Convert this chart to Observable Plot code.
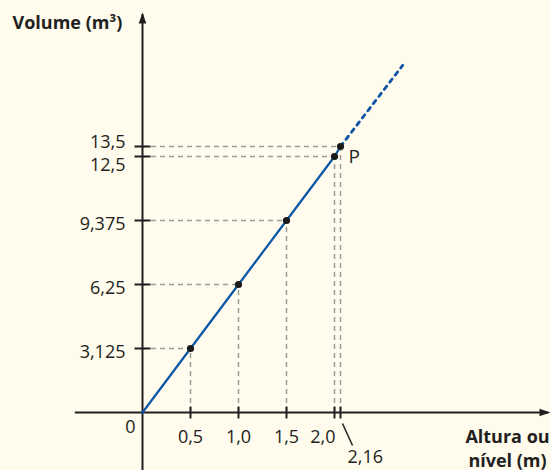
<!DOCTYPE html>
<html><head><meta charset="utf-8">
<script src="https://cdn.jsdelivr.net/npm/d3@7"></script>
<script src="https://cdn.jsdelivr.net/npm/@observablehq/plot@0.6"></script>
<style>html,body{margin:0;padding:0;background:#fffbed;} svg{display:block}</style>
</head><body><div id="chart"></div>
<script>
// Data
const heights = [0.5, 1.0, 1.5, 2.0, 2.16];          // Altura ou nível (m)
const volumes = [3.125, 6.25, 9.375, 12.5, 13.5];    // Volume (m³)
const xTickLabels = ["0,5", "1,0", "1,5", "2,0", "2,16"];
const yTickLabels = ["3,125", "6,25", "9,375", "12,5", "13,5"];
const extHeights = [2.16, 2.8];     // dashed continuation beyond P
const extVolumes = [13.5, 17.5];
const xAxisExtent = [-0.7, 4.3];
const yAxisExtent = [-2.9, 20];
const pointLabel = "P";

const pts = heights.map((h, i) => ({h, v: volumes[i], xl: xTickLabels[i], yl: yTickLabels[i]}));
const linePts = [{h: 0, v: 0}, ...pts];
const extPts = extHeights.map((h, i) => ({h, v: extVolumes[i]}));

const ink = "#231f20";
const blue = "#0c55a6";
const dashGray = "#9b9b9b";
const font = "Open Sans";

// custom symbols
const hTick = {draw(ctx, size) { const r = Math.sqrt(size / Math.PI); ctx.moveTo(-r, 0); ctx.lineTo(r, 0); }};
const vTick = {draw(ctx, size) { const r = Math.sqrt(size / Math.PI); ctx.moveTo(0, -r); ctx.lineTo(0, r); }};
const arrowRight = {draw(ctx) { ctx.moveTo(2, 0); ctx.lineTo(-9, -3.8); ctx.lineTo(-9, 3.8); ctx.closePath(); }};
const arrowUp = {draw(ctx) { ctx.moveTo(0, -2); ctx.lineTo(-3.8, 9); ctx.lineTo(3.8, 9); ctx.closePath(); }};
const slash = {draw(ctx) { ctx.moveTo(-5, -11); ctx.lineTo(5, 11); }};

const O = [0];
const last = pts[pts.length - 1];

const chart = Plot.plot({
  width: 551,
  height: 470,
  margin: 0,
  style: {background: "#fffbed", fontFamily: font, color: ink},
  x: {type: "linear", domain: [0, 2, 2.16, 4.3], range: [142, 334, 340, 548], axis: null},
  y: {type: "linear", domain: [0, 12.5, 13.5, 20], range: [412, 156, 146, 14], axis: null},
  marks: [
    // dashed guides
    Plot.ruleY(pts, {y: "v", x1: () => 0, x2: "h", stroke: dashGray, strokeWidth: 1.5, strokeDasharray: "5,4"}),
    Plot.ruleX(pts, {x: "h", y1: () => 0, y2: "v", stroke: dashGray, strokeWidth: 1.5, strokeDasharray: "5,4"}),
    // axes
    Plot.ruleY(O, {y: 0, x1: xAxisExtent[0], x2: xAxisExtent[1], stroke: ink, strokeWidth: 2}),
    Plot.ruleX(O, {x: 0, y1: yAxisExtent[0], y2: yAxisExtent[1], stroke: ink, strokeWidth: 2}),
    Plot.dot(O, {x: xAxisExtent[1], y: 0, symbol: arrowRight, fill: ink, stroke: "none"}),
    Plot.dot(O, {x: 0, y: yAxisExtent[1], symbol: arrowUp, fill: ink, stroke: "none"}),
    // ticks
    Plot.dot(pts, {x: () => 0, y: "v", symbol: hTick, r: 8, stroke: ink, strokeWidth: 2, fill: "none"}),
    Plot.dot(pts, {x: "h", y: () => 0, symbol: vTick, r: 6, stroke: ink, strokeWidth: 2, fill: "none"}),
    // leader for 2,16
    Plot.dot([last], {x: "h", y: () => 0, dx: 7, dy: 22, symbol: slash, stroke: ink, strokeWidth: 1.5, fill: "none"}),
    // line
    Plot.line(linePts, {x: "h", y: "v", stroke: blue, strokeWidth: 2.2}),
    Plot.line(extPts, {x: "h", y: "v", stroke: blue, strokeWidth: 2.8, strokeDasharray: "4,5"}),
    Plot.dot(pts, {x: "h", y: "v", r: 3.6, fill: "#1a1a1a", stroke: "none"}),
    // y tick labels
    Plot.text(pts.slice(0, 3), {x: () => 0, y: "v", text: "yl", textAnchor: "end", dx: -17, dy: 4, fontSize: 18, fill: ink}),
    Plot.text([pts[3]], {x: () => 0, y: "v", text: "yl", textAnchor: "end", dx: -17, dy: 9, fontSize: 18, fill: ink}),
    Plot.text([pts[4]], {x: () => 0, y: "v", text: "yl", textAnchor: "end", dx: -17, dy: -4, fontSize: 18, fill: ink}),
    // x tick labels
    Plot.text(pts.slice(0, 3), {x: "h", y: () => 0, text: "xl", textAnchor: "middle", dy: 25, fontSize: 18, fill: ink}),
    Plot.text([pts[3]], {x: "h", y: () => 0, text: "xl", textAnchor: "end", dx: 1, dy: 25, fontSize: 18, fill: ink}),
    Plot.text([pts[4]], {x: "h", y: () => 0, text: "xl", textAnchor: "start", dx: 7, dy: 45, fontSize: 18, fill: ink}),
    // origin label
    Plot.text(O, {x: 0, y: 0, text: () => "0", textAnchor: "middle", dx: -12, dy: 15, fontSize: 18, fill: ink}),
    // point P
    Plot.text([last], {x: "h", y: "v", text: () => pointLabel, textAnchor: "start", dx: 8, dy: 10, fontSize: 19, fill: ink}),
    // axis titles
    Plot.text(O, {frameAnchor: "top-left", text: () => "Volume (m³)", textAnchor: "start", lineAnchor: "middle", dx: 12, dy: 23, fontSize: 18, fontWeight: "bold", fill: ink}),
    Plot.text(O, {frameAnchor: "bottom-right", text: () => "Altura ou\nnível (m)", textAnchor: "middle", lineAnchor: "bottom", lineHeight: 1.28, dx: -44, dy: -4, fontSize: 18, fontWeight: "bold", fill: ink})
  ]
});
document.getElementById("chart").appendChild(chart);
</script>
</body></html>
